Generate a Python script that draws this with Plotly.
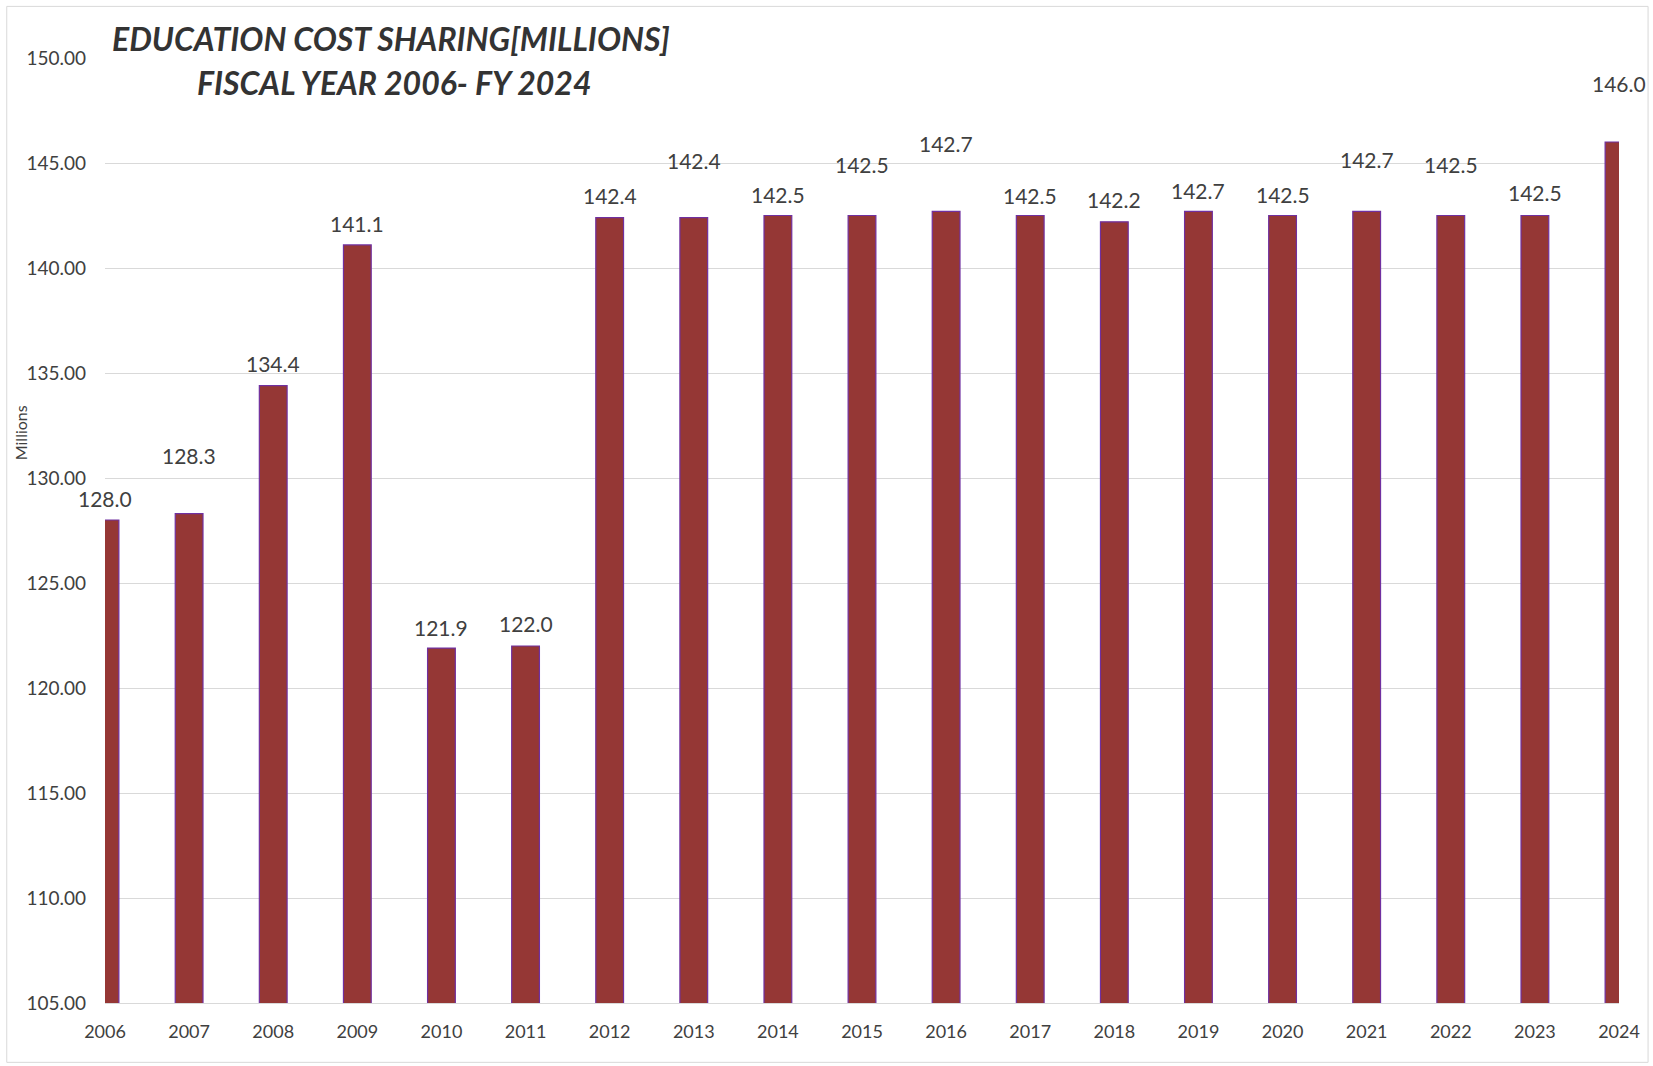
import plotly.graph_objects as go

years = list(range(2006, 2025))
values = [128.0, 128.3, 134.4, 141.1, 121.9, 122.0, 142.4, 142.4, 142.5, 142.5,
          142.7, 142.5, 142.2, 142.7, 142.5, 142.7, 142.5, 142.5, 146.0]
labels = ["128.0", "128.3", "134.4", "141.1", "121.9", "122.0", "142.4", "142.4", "142.5", "142.5",
          "142.7", "142.5", "142.2", "142.7", "142.5", "142.7", "142.5", "142.5", "146.0"]
# pixel lift of each data label above its bar top (manual label placement in the original)
label_lift = [22, 58, 22, 21, 21, 23, 22, 57, 21, 51, 68, 20, 22, 21, 21, 52, 51, 23, 59]
ytick_vals = [105, 110, 115, 120, 125, 130, 135, 140, 145, 150]
ytick_text = ["105.00", "110.00", "115.00", "120.00", "125.00", "130.00", "135.00", "140.00", "145.00", "150.00"]

FONT = "Lato"
TXT = "#404040"

fig = go.Figure()
fig.add_trace(go.Bar(
    x=years, y=values, width=0.33,
    marker=dict(color="#953735", line=dict(color="#7030A0", width=1.2)),
    hoverinfo="x+y",
))

for yr, v, t, dy in zip(years, values, labels, label_lift):
    fig.add_annotation(x=yr, y=v, text=t, showarrow=False, xanchor="center", yanchor="middle",
                       yshift=dy, font=dict(family=FONT, size=21, color=TXT))

fig.add_annotation(xref="paper", yref="paper", x=0.0035, y=1.0204, xanchor="left", yanchor="middle",
                   text="<b><i>EDUCATION COST SHARING[MILLIONS]</i></b>", showarrow=False,
                   font=dict(family=FONT, size=32, color="#333333"))
fig.add_annotation(xref="paper", yref="paper", x=0.0595, y=0.9745, xanchor="left", yanchor="middle",
                   text="<b><i>FISCAL YEAR 2006- FY 2024</i></b>", showarrow=False,
                   font=dict(family=FONT, size=32, color="#333333"))
fig.add_annotation(xref="paper", yref="paper", x=-0.0558, y=0.6035, xanchor="center", yanchor="middle",
                   text="Millions", textangle=-90, showarrow=False,
                   font=dict(family=FONT, size=16, color=TXT))

fig.add_shape(type="rect", xref="paper", yref="paper", x0=-0.0649, x1=1.0192, y0=-0.0628, y1=1.0546,
              line=dict(color="#d9d9d9", width=1), layer="below")

fig.update_layout(
    width=1653, height=1066,
    margin=dict(l=105, r=34, t=58, b=63),
    paper_bgcolor="white", plot_bgcolor="white",
    showlegend=False,
    font=dict(family=FONT, color=TXT),
    xaxis=dict(range=[2006, 2024], tickmode="array", tickvals=years, ticktext=[str(y) for y in years],
               showgrid=False, zeroline=False, showline=True, linecolor="#d9d9d9", linewidth=1,
               ticks="", tickfont=dict(family=FONT, size=18, color=TXT), ticklabelstandoff=12),
    yaxis=dict(range=[105, 150], tickmode="array", tickvals=ytick_vals, ticktext=ytick_text,
               showgrid=True, gridcolor="#d9d9d9", gridwidth=1, zeroline=False, showline=False,
               ticks="", tickfont=dict(family=FONT, size=19, color=TXT), ticklabelstandoff=18),
)

fig.write_html("out.html", config={"displayModeBar": False},
               post_script="document.body.style.margin='0';")
